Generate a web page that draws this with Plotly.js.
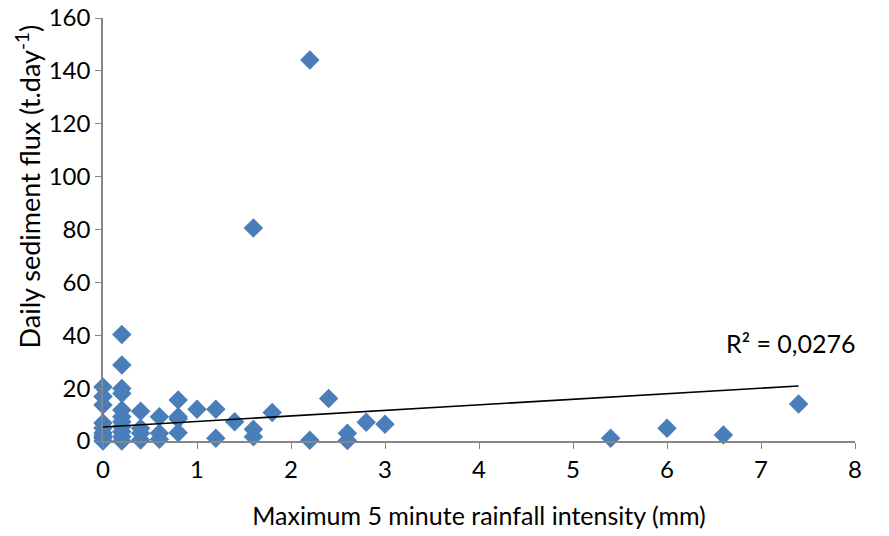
<!DOCTYPE html>
<html><head><meta charset="utf-8">
<script src="https://cdn.plot.ly/plotly-3.0.1.min.js"></script>
<style>body{margin:0;background:#fff}#c{width:889px;height:536px}</style>
</head><body><div id="c"></div>
<script>
var intensity = [0,0,0,0,0,0,0,0,0,
  0.2,0.2,0.2,0.2,0.2,0.2,0.2,0.2,0.2,0.2,0.2,
  0.4,0.4,0.4,0.4,
  0.6,0.6,0.6,
  0.8,0.8,0.8,0.8,
  1.0,1.2,1.2,1.4,1.6,1.6,1.6,1.8,2.2,2.2,2.4,2.6,2.6,2.8,3.0,
  5.4,6.0,6.6,7.4];
var flux = [20.4,16.8,13.6,6.8,4.9,3.0,1.1,0,2,
  40.3,28.7,19.9,18,11.7,9.2,7.3,5.4,3.5,1.6,0,
  11.3,4.8,2.9,0.4,
  9.2,2.9,0.7,
  15.5,9.2,8.3,3.1,
  12,12,1,7.3,4.4,1.6,80.6,10.8,144.1,0.3,16.1,2.9,0.2,7.1,6.3,
  1,4.8,2.3,14];
var trendX = [0, 7.4];
var trendY = [5.3, 20.8];
var r2Label = "R² = 0,0276";
var yTitle = "Daily sediment flux (t.day<sup>-1</sup>)";
var xTitle = "Maximum 5 minute rainfall intensity (mm)";
var xTicks = [0,1,2,3,4,5,6,7,8];
var yTicks = [0,20,40,60,80,100,120,140,160];

var font = "Lato, 'Open Sans', sans-serif";
Plotly.newPlot('c', [
  {x: intensity, y: flux, type: 'scatter', mode: 'markers',
   marker: {symbol: 'diamond', size: 15, color: '#4a7ebb', line: {width: 0}}, cliponaxis: false},
  {x: trendX, y: trendY, type: 'scatter', mode: 'lines', line: {color: '#000', width: 1.6}}
], {
  width: 889, height: 536, showlegend: false,
  margin: {l: 103, r: 34, t: 18, b: 95},
  paper_bgcolor: '#fff', plot_bgcolor: '#fff',
  font: {family: font, size: 24, color: '#000'},
  xaxis: {range: [0, 8], tickvals: xTicks, ticks: 'outside', ticklen: 6, tickcolor: '#868686',
    showline: true, linecolor: '#868686', linewidth: 1.5, showgrid: false, zeroline: false,
    tickfont: {size: 24}, title: {text: xTitle, font: {size: 25}, standoff: 26}},
  yaxis: {range: [0, 160], tickvals: yTicks, ticks: 'outside', ticklen: 6, tickcolor: '#868686',
    showline: true, linecolor: '#868686', linewidth: 1.5, showgrid: false, zeroline: false,
    tickfont: {size: 24}},
  annotations: [
    {x: 7.32, y: 37, xref: 'x', yref: 'y', text: r2Label, showarrow: false,
     xanchor: 'center', font: {size: 25}},
    {x: -0.0997, y: 0.602, xref: 'paper', yref: 'paper', text: yTitle, textangle: -90,
     showarrow: false, xanchor: 'center', yanchor: 'middle', font: {size: 27}}
  ]
}, {displayModeBar: false});
</script></body></html>
